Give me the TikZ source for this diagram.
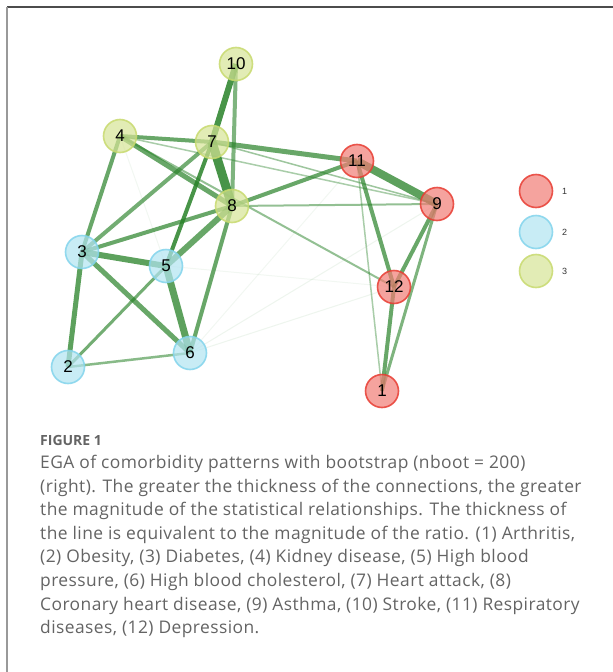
\documentclass[tikz,border=0pt]{standalone}
\usepackage{fontspec}
\setmainfont{Open Sans}
\newfontfamily\capfont[LetterSpace=2.5]{Open Sans}
\newfontfamily\numfont{Liberation Sans}
\usetikzlibrary{backgrounds}
\definecolor{edgegreen}{RGB}{40,130,40}
\definecolor{redfill}{RGB}{242,125,118}
\definecolor{reddraw}{RGB}{232,60,50}
\definecolor{bluefill}{RGB}{178,228,242}
\definecolor{bluedraw}{RGB}{130,212,236}
\definecolor{greenfill}{RGB}{214,228,150}
\definecolor{greendraw}{RGB}{200,218,110}
\definecolor{captiongray}{RGB}{100,100,100}
\tikzset{
  vert/.style={circle, minimum size=33pt, inner sep=0pt, line width=1.6pt,
    fill opacity=0.7, draw opacity=0.85, text opacity=1,
    font=\numfont\fontsize{17}{17}\selectfont, text=black},
  vred/.style={vert, draw=reddraw, fill=redfill},
  vblue/.style={vert, draw=bluedraw, fill=bluefill},
  vgreen/.style={vert, draw=greendraw, fill=greenfill},
  ed/.style 2 args={draw=edgegreen, line width=#1, draw opacity=#2},
  legtext/.style={font=\numfont\fontsize{9}{9}\selectfont, text=black!80, anchor=west, inner sep=0pt},
}
\begin{document}
\begin{tikzpicture}[x=1pt,y=-1pt]
\useasboundingbox (0,0) rectangle (613,672);
% vertices
\node[vred]   (n1)  at (382,391) {1};
\node[vblue]  (n2)  at (68,367)  {2};
\node[vblue]  (n3)  at (82,252)  {3};
\node[vgreen] (n4)  at (120,136) {4};
\node[vblue]  (n5)  at (166,266) {5};
\node[vblue]  (n6)  at (190,353) {6};
\node[vgreen] (n7)  at (212,142) {7};
\node[vgreen] (n8)  at (232,206) {8};
\node[vred]   (n9)  at (437,204) {9};
\node[vgreen] (n10) at (236,64)  {10};
\node[vred]   (n11) at (357,161) {11};
\node[vred]   (n12) at (394,287) {12};
\begin{pgfonlayer}{background}
\fill[white] (0,0) rectangle (613,672);
% faint edges
\draw[ed={1pt}{0.08}] (n6.center) -- (n12.center);
\draw[ed={1pt}{0.08}] (n6.center) -- (n9.center);
\draw[ed={1pt}{0.06}] (n6.center) -- (n11.center);
\draw[ed={1pt}{0.06}] (n4.center) -- (n5.center);
\draw[ed={1pt}{0.06}] (n5.center) -- (n12.center);
% edges
\draw[ed={6pt}{0.85}] (n10.center) -- (n7.center);
\draw[ed={4pt}{0.6}]  (n10.center) -- (n8.center);
\draw[ed={9pt}{0.85}] (n7.center) -- (n8.center);
\draw[ed={5pt}{0.7}]  (n7.center) -- (n11.center);
\draw[ed={4pt}{0.85}] (n7.center) -- (n5.center);
\draw[ed={4pt}{0.65}] (n7.center) -- (n3.center);
\draw[ed={1.5pt}{0.45}] (n7.center) -- (n9.center);
\draw[ed={4pt}{0.7}]  (n4.center) -- (n7.center);
\draw[ed={5pt}{0.7}]  (n4.center) -- (n8.center);
\draw[ed={4pt}{0.7}]  (n4.center) -- (n3.center);
\draw[ed={1.5pt}{0.4}] (n4.center) -- (n9.center);
\draw[ed={2pt}{0.5}]  (n4.center) -- (n12.center);
\draw[ed={4pt}{0.7}]  (n8.center) -- (n11.center);
\draw[ed={2pt}{0.5}]  (n8.center) -- (n9.center);
\draw[ed={4pt}{0.7}]  (n8.center) -- (n3.center);
\draw[ed={6pt}{0.7}]  (n8.center) -- (n5.center);
\draw[ed={4pt}{0.7}]  (n8.center) -- (n6.center);
\draw[ed={8pt}{0.75}] (n11.center) -- (n9.center);
\draw[ed={4pt}{0.7}]  (n11.center) -- (n12.center);
\draw[ed={1.5pt}{0.4}] (n11.center) -- (n1.center);
\draw[ed={4pt}{0.7}]  (n9.center) -- (n12.center);
\draw[ed={3pt}{0.6}]  (n9.center) -- (n1.center);
\draw[ed={4pt}{0.7}]  (n12.center) -- (n1.center);
\draw[ed={6pt}{0.75}] (n3.center) -- (n5.center);
\draw[ed={5pt}{0.7}]  (n3.center) -- (n6.center);
\draw[ed={5pt}{0.75}] (n3.center) -- (n2.center);
\draw[ed={7pt}{0.75}] (n5.center) -- (n6.center);
\draw[ed={3pt}{0.65}] (n5.center) -- (n2.center);
\draw[ed={2.5pt}{0.55}] (n2.center) -- (n6.center);
\end{pgfonlayer}
% legend
\node[vred,  minimum size=33pt] (l1) at (536,191) {};
\node[vblue, minimum size=33pt] (l2) at (536,232) {};
\node[vgreen,minimum size=33pt] (l3) at (536,271) {};
\node[legtext] (t1) at (562,191) {1};
\node[legtext] (t2) at (562,232) {2};
\node[legtext] (t3) at (562,271) {3};
% frame
\coordinate (fa) at (7,7);
\coordinate (fb) at (613,7);
\coordinate (fc) at (7,672);
\draw[line width=1.4pt, black!70] (fa) -- (fb);
\draw[line width=1.6pt, black!40] (fa) -- (fc);
% caption
\node[anchor=west, inner sep=0pt, text=captiongray, font=\fontsize{14}{15}\selectfont\bfseries] (fig) at (40,440) {FIGURE 1};
\node[anchor=north west, inner sep=0pt, align=left, text=captiongray,
      font=\capfont\fontsize{17.4}{23.6}\selectfont] (cap) at (40,455) {%
EGA of comorbidity patterns with bootstrap (nboot = 200)\\
(right). The greater the thickness of the connections, the greater\\
the magnitude of the statistical relationships. The thickness of\\
the line is equivalent to the magnitude of the ratio. (1) Arthritis,\\
(2) Obesity, (3) Diabetes, (4) Kidney disease, (5) High blood\\
pressure, (6) High blood cholesterol, (7) Heart attack, (8)\\
Coronary heart disease, (9) Asthma, (10) Stroke, (11) Respiratory\\
diseases, (12) Depression.};
\end{tikzpicture}
\end{document}
